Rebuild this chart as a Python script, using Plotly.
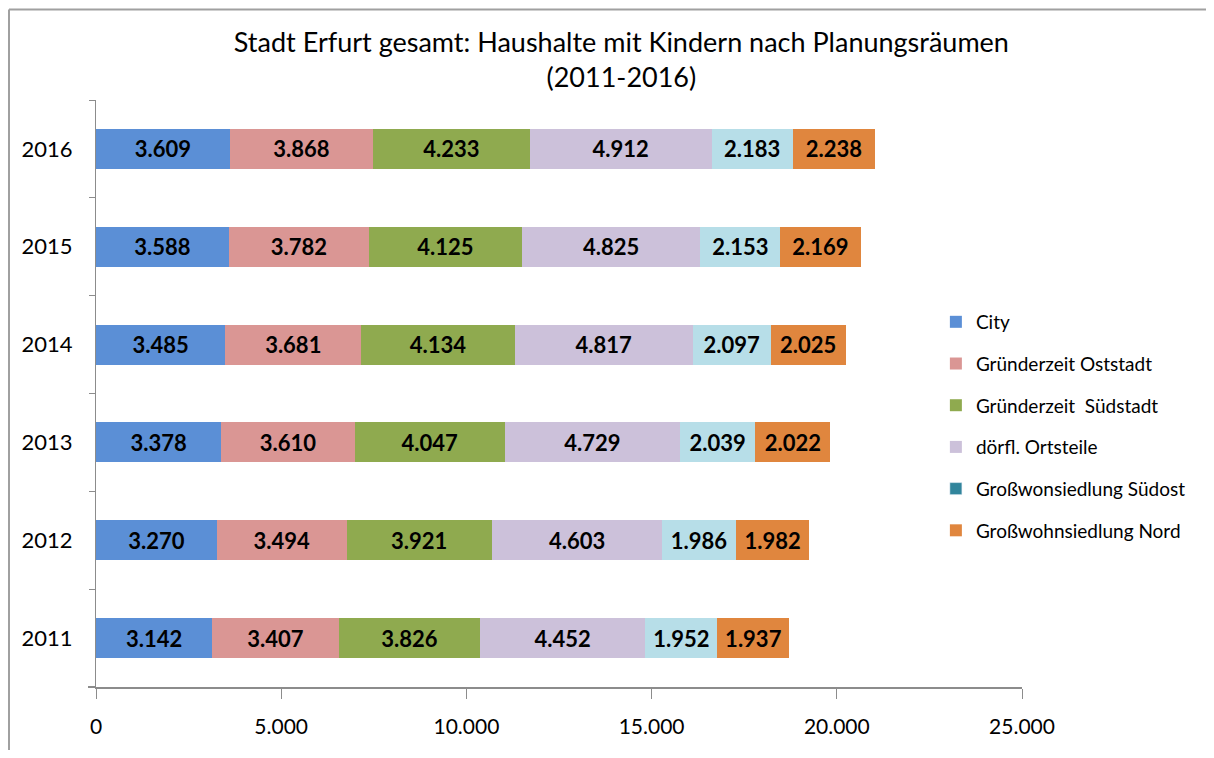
import plotly.graph_objects as go

years = ["2011", "2012", "2013", "2014", "2015", "2016"]
city = [3142, 3270, 3378, 3485, 3588, 3609]
oststadt = [3407, 3494, 3610, 3681, 3782, 3868]
suedstadt = [3826, 3921, 4047, 4134, 4125, 4233]
doerfl = [4452, 4603, 4729, 4817, 4825, 4912]
suedost = [1952, 1986, 2039, 2097, 2153, 2183]
nord = [1937, 1982, 2022, 2025, 2169, 2238]

series = [
    ("City", city, "#5b8fd6"),
    ("Gründerzeit Oststadt", oststadt, "#da9694"),
    ("Gründerzeit  Südstadt", suedstadt, "#8faa4f"),
    ("dörfl. Ortsteile", doerfl, "#ccc1da"),
    ("Großwonsiedlung Südost", suedost, "#b7dee8"),
    ("Großwohnsiedlung Nord", nord, "#e0863e"),
]

FONT = "Lato"
W, H = 1198, 742
L, T = 88, 92
PW, PH = 926, 590
R, B = W - L - PW, H - T - PH

fig = go.Figure()
for i, (name, vals, col) in enumerate(series):
    is_so = name.startswith("Großwonsiedlung")
    fig.add_trace(go.Bar(
        y=years, x=vals, name=name, orientation="h",
        marker=dict(color=col, line=dict(width=0)),
        text=vals, texttemplate="%{x:,}", textposition="inside",
        insidetextanchor="middle",
        textfont=dict(family=FONT, size=22, color="black", weight="bold"),
        showlegend=not is_so, legendgroup=name, legendrank=i + 1,
        hoverinfo="skip",
    ))
    if is_so:
        fig.add_trace(go.Bar(
            y=years, x=[None] * len(years), name=name, orientation="h",
            marker=dict(color="#31859c"), showlegend=True,
            legendgroup=name + "_leg", legendrank=i + 1, hoverinfo="skip",
        ))

border = dict(color="#a0a0a0", width=2)
fig.update_layout(
    width=W, height=H,
    barmode="stack", bargap=0.59,
    separators=",.",
    plot_bgcolor="white", paper_bgcolor="white",
    margin=dict(l=L, r=R, t=T, b=B),
    font=dict(family=FONT, color="black"),
    title=dict(
        text="Stadt Erfurt gesamt: Haushalte mit Kindern nach Planungsräumen<br>(2011-2016)",
        x=0.512, xanchor="center", xref="container",
        y=1 - 44 / H, yanchor="top", yref="container",
        font=dict(family=FONT, size=27, color="black"),
    ),
    legend=dict(
        x=0.907, y=(PH - (304 - T - 8)) / PH, xanchor="left", yanchor="top",
        traceorder="grouped", tracegroupgap=14,
        bgcolor="rgba(0,0,0,0)",
        font=dict(family=FONT, size=19, color="black"),
        itemwidth=30,
    ),
    xaxis=dict(
        range=[0, 25000], tickvals=[0, 5000, 10000, 15000, 20000, 25000],
        tickformat=",", showgrid=False, zeroline=False,
        showline=True, linecolor="#8c8c8c", linewidth=2,
        ticks="outside", ticklen=10, tickcolor="#8c8c8c",
        tickfont=dict(family=FONT, size=21, color="black"),
        ticklabelstandoff=10,
    ),
    yaxis=dict(
        showgrid=False, zeroline=False,
        showline=True, linecolor="#8c8c8c", linewidth=1,
        ticks="outside", ticklen=6, tickcolor="#8c8c8c",
        tickson="boundaries",
        tickfont=dict(family=FONT, size=22, color="black"),
        ticklabelstandoff=18,
    ),
    shapes=[
        # outer chart frame: left and top edges
        dict(type="line", xref="paper", yref="paper",
             x0=(1 - L) / PW, x1=(1 - L) / PW, y0=-(B + 10) / PH, y1=(PH + T - 1) / PH,
             line=border),
        dict(type="line", xref="paper", yref="paper",
             x0=(1 - L) / PW, x1=(W + 10 - L) / PW, y0=(PH + T - 1) / PH, y1=(PH + T - 1) / PH,
             line=border),
        # short overshoot of the x-axis line to the left of the y-axis
        dict(type="line", xref="paper", yref="paper",
             x0=-8 / PW, x1=0, y0=0, y1=0,
             line=dict(color="#8c8c8c", width=2)),
    ],
)

fig.write_html("out.html")
